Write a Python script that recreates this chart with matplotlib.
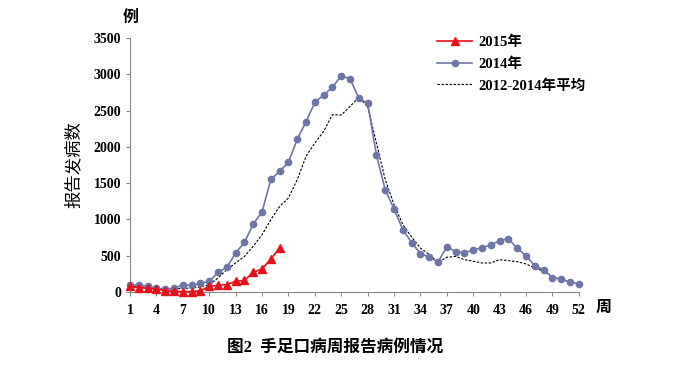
import numpy as np
import matplotlib.pyplot as plt

plt.rcParams['font.family'] = ['Liberation Serif', 'Noto Sans CJK SC']
plt.rcParams['font.weight'] = 'bold'

weeks = np.arange(1, 53)
cases_2015 = [78, 60, 50, 40, 18, 9, 5, 5, 18, 78, 92, 101, 147, 160, 271, 317, 455, 606]
cases_2014 = [101, 92, 80, 50, 40, 50, 100, 90, 120, 147,
              271, 340, 537, 684, 937, 1102, 1553, 1663, 1787, 2104,
              2347, 2614, 2715, 2825, 2977, 2940, 2669, 2604, 1888, 1406,
              1144, 859, 680, 528, 482, 413, 625, 556, 537, 583,
              611, 648, 707, 735, 602, 500, 358, 308, 198, 179,
              138, 110]
cases_avg = [80, 70, 60, 50, 40, 45, 50, 55, 70, 100,
             193, 308, 400, 490, 630, 790, 997, 1180, 1295, 1548,
             1870, 2053, 2214, 2444, 2440, 2558, 2683, 2558, 2053, 1548,
             1203, 928, 758, 606, 514, 409, 478, 491, 445, 423,
             400, 400, 445, 432, 418, 386, 331, 285, 207, 170,
             142, 110]
xticks = list(range(1, 53, 3))

fig = plt.figure(figsize=(6.79, 3.77), dpi=100)
ax = fig.add_axes([0.1915, 0.2255, 0.661, 0.6735])

ax.plot(weeks[:len(cases_2015)], cases_2015, color='#e8101a', marker='^',
        markersize=6, linewidth=1.2, label='2015年', zorder=3)
ax.plot(weeks, cases_2014, color='#6d76a6', marker='o', markersize=4.5,
        linewidth=1.2, label='2014年', zorder=2)
ax.plot(weeks, cases_avg, color='black', linestyle=(0, (2.2, 1.4)),
        linewidth=0.8, label='2012-2014年平均', zorder=1)

ax.set_xlim(1, 52)
ax.set_ylim(0, 3500)
ax.set_xticks(xticks)
ax.set_yticks(range(0, 3501, 500))
ax.tick_params(axis='both', labelsize=10, length=3, color='#888888')
ax.tick_params(axis='x', pad=6)
for s in ['top', 'right']:
    ax.spines[s].set_visible(False)
for s in ['left', 'bottom']:
    ax.spines[s].set_color('#888888')
    ax.spines[s].set_linewidth(0.8)
for ln in ax.lines:
    ln.set_clip_on(False)

ax.set_ylabel('报告发病数', fontsize=12.5, labelpad=8)
fig.text(0.192, 0.952, '例', fontsize=11.5, ha='center', va='center')
fig.text(0.889, 0.183, '周', fontsize=11.5, ha='center', va='center')
fig.text(0.493, 0.077, '图2  手足口病周报告病例情况', fontsize=12,
         ha='center', va='center')

leg = ax.legend(loc='upper left', bbox_to_anchor=(0.655, 1.06), frameon=False,
                fontsize=10.5, handlelength=2.4, labelspacing=0.55,
                handletextpad=0.4)

fig.savefig('out.png', dpi=100)
